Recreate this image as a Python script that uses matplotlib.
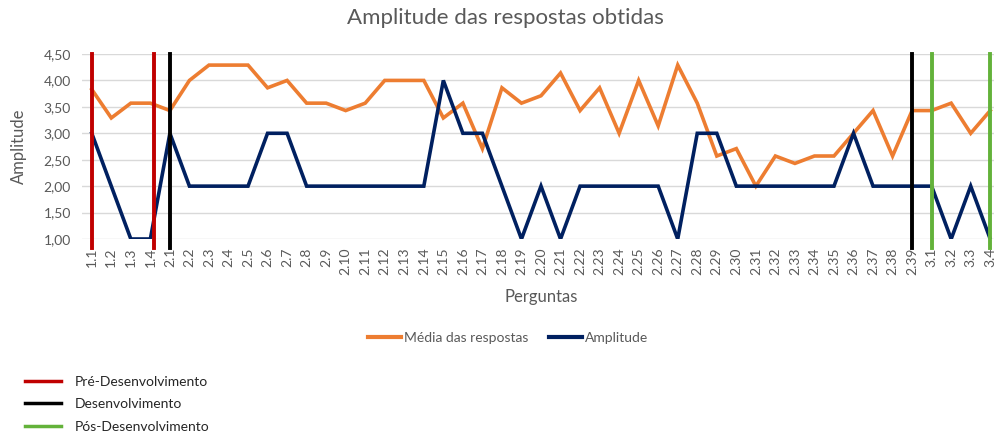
import numpy as np
import matplotlib
matplotlib.use("Agg")
import matplotlib.pyplot as plt
from matplotlib.lines import Line2D

plt.rcParams['font.family'] = ['Lato', 'DejaVu Sans']

# question labels
perguntas = (["1.%d" % i for i in range(1, 5)]
             + ["2.%d" % i for i in range(1, 40)]
             + ["3.%d" % i for i in range(1, 5)])

media = [3.83, 3.29, 3.57, 3.57,
         3.43, 4.00, 4.29, 4.29, 4.29, 3.86, 4.00, 3.57, 3.57, 3.43,
         3.57, 4.00, 4.00, 4.00, 3.29, 3.57, 2.71, 3.86, 3.57, 3.71,
         4.14, 3.43, 3.86, 3.00, 4.00, 3.14, 4.29, 3.57, 2.57, 2.71,
         2.00, 2.57, 2.43, 2.57, 2.57, 3.00, 3.43, 2.57, 3.43,
         3.43, 3.57, 3.00, 3.43]

amplitude = [3, 2, 1, 1,
             3, 2, 2, 2, 2, 3, 3, 2, 2, 2,
             2, 2, 2, 2, 4, 3, 3, 2, 1, 2,
             1, 2, 2, 2, 2, 2, 1, 3, 3, 2,
             2, 2, 2, 2, 2, 3, 2, 2, 2,
             2, 1, 2, 1]

# phase markers (category position)
fase_pre = [0, 3.2]
fase_dev = [4, 42]
fase_pos = [43, 46]

cor_media = '#ED7D31'
cor_amp = '#002060'
cor_pre = '#C00000'
cor_dev = '#000000'
cor_pos = '#63B23A'
cinza = '#595959'

x = np.arange(len(perguntas))

fig = plt.figure(figsize=(9.95, 4.36), dpi=100)
ax = fig.add_axes([82 / 995, 1 - 239 / 436, (1000 - 82) / 995, (239 - 54) / 436])

ax.plot(x, media, color=cor_media, lw=2.6, solid_joinstyle='miter', zorder=3)
ax.plot(x, amplitude, color=cor_amp, lw=2.6, solid_joinstyle='miter', zorder=3)

marcas = [(p, cor_pre) for p in fase_pre] + [(p, cor_dev) for p in fase_dev] + [(p, cor_pos) for p in fase_pos]
for pos, cor in marcas:
    ax.plot([pos, pos], [0.83, 4.5], color=cor, lw=2.8, clip_on=False, zorder=4)

ax.set_xlim(-0.5, len(perguntas) - 0.5)
ax.set_ylim(1, 4.5)
ax.set_yticks(np.arange(1, 4.51, 0.5))
ax.set_yticklabels([("%.2f" % v).replace('.', ',') for v in np.arange(1, 4.51, 0.5)])
ax.set_xticks(x)
ax.set_xticklabels(perguntas, rotation=90)
ax.tick_params(axis='both', length=0, colors=cinza, labelsize=10)
ax.tick_params(axis='x', pad=6)
ax.tick_params(axis='y', pad=8)
ax.grid(axis='y', color='#D9D9D9', lw=1)
ax.set_axisbelow(True)
for s in ax.spines.values():
    s.set_visible(False)

ax.set_xlabel('Perguntas', color=cinza, fontsize=12, labelpad=10)
ax.set_ylabel('Amplitude', color=cinza, fontsize=12, labelpad=12)

fig.text(505 / 995, 1 - 18 / 436, 'Amplitude das respostas obtidas', ha='center', va='center',
         fontsize=16, color=cinza)

h1 = [Line2D([], [], color=cor_media, lw=3), Line2D([], [], color=cor_amp, lw=3)]
leg1 = fig.legend(h1, ['Média das respostas', 'Amplitude'], loc='center',
                  bbox_to_anchor=(508 / 995, 1 - 338 / 436), ncol=2, frameon=False,
                  fontsize=10, handlelength=2.4, handletextpad=0.2, columnspacing=1.5)
for t in leg1.get_texts():
    t.set_color(cinza)

h2 = [Line2D([], [], color=cor_pre, lw=2.5), Line2D([], [], color=cor_dev, lw=2.5),
      Line2D([], [], color=cor_pos, lw=2.5)]
leg2 = fig.legend(h2, ['Pré-Desenvolvimento', 'Desenvolvimento', 'Pós-Desenvolvimento'],
                  loc='upper left', bbox_to_anchor=(12 / 995, 1 - 363 / 436), frameon=False,
                  fontsize=10, handlelength=2.65, handletextpad=0.95, labelspacing=0.78)
for t in leg2.get_texts():
    t.set_color('#262626')

fig.savefig('out.png', dpi=100)
